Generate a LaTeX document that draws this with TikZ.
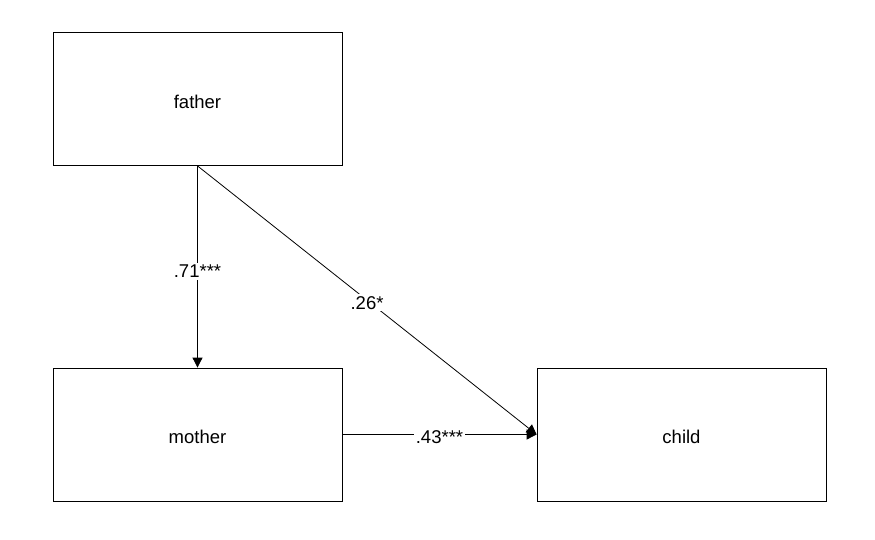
\documentclass[tikz,border=0pt]{standalone}
\usepackage{fontspec}
\setmainfont{Liberation Sans}
\usetikzlibrary{arrows.meta}
\newcommand{\lowertext}[1]{\raisebox{-2.5pt}[\height][\depth]{#1}}
\begin{document}
\begin{tikzpicture}[x=1pt,y=-1pt,
  box/.style={draw,line width=0.8pt,minimum width=289pt,minimum height=133pt,inner sep=0pt,font=\fontsize{18.5}{21}\selectfont},
  conn/.style={line width=0.8pt,-{Triangle[length=10pt,width=10pt]}},
  lab/.style={fill=white,inner sep=2pt,yshift=-2.5pt,font=\fontsize{18.5}{21}\selectfont}]
\useasboundingbox (0,0) rectangle (875,540);
\node[box] (father) at (197.5,99) {\lowertext{father}};
\node[box] (mother) at (197.5,434.5) {\lowertext{mother}};
\node[box] (child) at (681.5,434.5) {\lowertext{child}};
\draw[conn] (father.south) -- node[lab,pos=0.51]{.71***} (mother.north);
\draw[conn] (father.south) -- node[lab,pos=0.5]{.26*} (child.west);
\draw[conn] (mother.east) -- node[lab,pos=0.5]{.43***} (child.west);
\end{tikzpicture}
\end{document}
